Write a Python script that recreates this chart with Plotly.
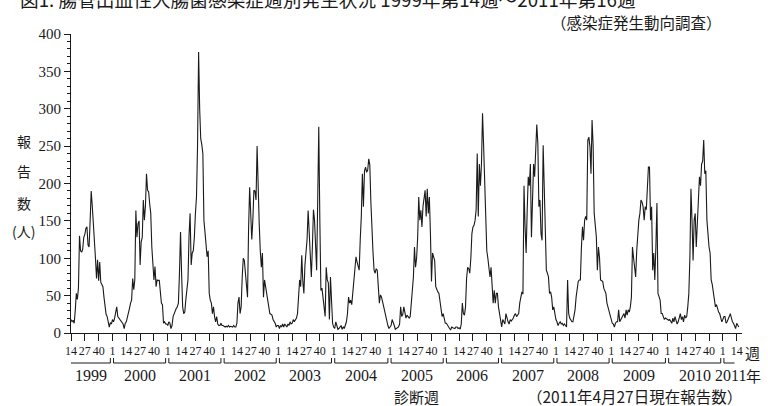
import plotly.graph_objects as go

# Weekly reports of enterocolitis haemorrhagic E. coli infection, 1999 wk14 - 2011 wk16
years = list(range(1999, 2012))
weeks_in_year = [52, 52, 52, 52, 52, 53, 52, 52, 52, 52, 53, 52, 52]
first_week = 14   # series starts at week 14 of 1999
last_week = 16    # and ends at week 16 of 2011
label_weeks = [1, 14, 27, 40]

cases_1999 = [18, 15, 17, 13, 30, 53, 45, 60, 130, 110, 108, 112, 128, 132, 140, 142, 118, 115, 150, 190,
              170, 150, 120, 100, 73, 98, 70, 95, 68, 65, 62, 48, 35, 25, 22, 13, 8, 14, 12]
cases_2000 = [18, 15, 20, 26, 35, 22, 20, 18, 16, 15, 12, 6, 13, 15, 20, 26, 33, 40, 44, 73,
              58, 71, 164, 128, 146, 150, 91, 122, 128, 178, 151, 170, 213, 191, 189, 173, 160, 115, 90, 71,
              89, 62, 71, 70, 71, 55, 40, 38, 13, 15, 12, 12]
cases_2001 = [10, 15, 13, 6, 10, 22, 26, 30, 33, 35, 40, 80, 135, 80, 35, 26, 28, 45, 60, 71,
              130, 160, 91, 107, 110, 128, 160, 182, 250, 376, 300, 260, 252, 240, 151, 133, 115, 102, 110, 53,
              44, 40, 26, 35, 22, 15, 22, 12, 10, 10, 13, 10]
cases_2002 = [10, 9, 8, 9, 8, 10, 8, 9, 8, 8, 10, 8, 8, 13, 40, 48, 26, 35, 75, 100,
              97, 80, 69, 48, 140, 195, 160, 125, 151, 191, 190, 178, 250, 182, 146, 110, 88, 107, 48, 71,
              62, 50, 44, 35, 26, 25, 24, 18, 16, 13, 8, 10]
cases_2003 = [10, 6, 10, 8, 12, 8, 12, 10, 8, 12, 10, 15, 12, 13, 18, 15, 18, 20, 26, 50,
              71, 62, 104, 69, 53, 91, 110, 125, 164, 133, 115, 75, 115, 165, 151, 107, 84, 178, 276, 151,
              57, 60, 48, 40, 22, 88, 71, 67, 18, 75, 31, 13]
cases_2004 = [8, 6, 15, 8, 5, 6, 8, 10, 5, 8, 6, 10, 15, 26, 48, 40, 44, 38, 53, 71,
              88, 102, 95, 88, 84, 125, 156, 213, 169, 217, 222, 215, 218, 233, 225, 175, 130, 108, 84, 80,
              86, 84, 62, 40, 51, 48, 42, 35, 28, 20, 15, 10, 6]
cases_2005 = [8, 10, 18, 12, 10, 5, 6, 6, 8, 12, 35, 22, 25, 35, 28, 20, 24, 22, 20, 22,
              40, 57, 75, 115, 88, 100, 128, 182, 151, 164, 142, 169, 180, 191, 156, 193, 160, 182, 133, 69,
              107, 101, 97, 62, 57, 55, 53, 40, 31, 22, 26, 20]
cases_2006 = [13, 13, 10, 8, 6, 4, 8, 7, 6, 6, 8, 8, 6, 7, 5, 12, 40, 26, 24, 35,
              73, 88, 86, 80, 100, 133, 142, 144, 151, 165, 240, 156, 226, 197, 226, 294, 251, 201, 133, 110,
              100, 88, 75, 88, 62, 40, 57, 40, 53, 53, 35, 26]
cases_2007 = [22, 8, 18, 14, 12, 26, 18, 15, 12, 18, 16, 18, 20, 24, 26, 22, 24, 26, 40, 48,
              55, 52, 197, 142, 107, 164, 209, 197, 226, 128, 182, 226, 209, 240, 279, 254, 169, 178, 133, 124,
              251, 197, 128, 84, 80, 75, 53, 55, 48, 31, 35, 25]
cases_2008 = [18, 15, 10, 13, 15, 12, 13, 10, 12, 10, 8, 71, 26, 20, 18, 15, 15, 22, 31, 48,
              60, 69, 71, 71, 115, 142, 124, 151, 156, 151, 258, 262, 249, 213, 285, 251, 160, 140, 129, 84,
              115, 101, 71, 70, 69, 60, 57, 53, 40, 35, 29, 26]
cases_2009 = [20, 13, 12, 8, 13, 15, 15, 31, 15, 18, 20, 22, 26, 20, 31, 24, 31, 28, 35, 48,
              115, 101, 88, 75, 110, 133, 151, 160, 178, 175, 169, 151, 169, 165, 197, 222, 222, 151, 169, 84,
              107, 71, 115, 174, 53, 48, 44, 26, 26, 22, 18, 20, 19]
cases_2010 = [18, 17, 18, 15, 13, 20, 15, 22, 18, 12, 15, 20, 26, 18, 22, 15, 24, 20, 22, 35,
              53, 101, 193, 151, 97, 151, 160, 115, 151, 191, 209, 197, 226, 230, 258, 213, 217, 151, 129, 115,
              107, 71, 65, 53, 40, 35, 38, 31, 28, 26, 20, 15]
cases_2011 = [18, 22, 22, 13, 15, 20, 22, 26, 18, 15, 13, 8, 6, 13, 10, 8]

cases_by_year = [cases_1999, cases_2000, cases_2001, cases_2002, cases_2003, cases_2004, cases_2005,
                 cases_2006, cases_2007, cases_2008, cases_2009, cases_2010, cases_2011]

SERIF = "Liberation Serif"
CJK = "Noto Sans CJK JP"
INK = "#1a1a1a"

# Lay the weeks out on one continuous axis (one unit per week)
x, y = [], []
week1_pos, year_end = {}, {}
pos = 0
for yr, nweeks, vals in zip(years, weeks_in_year, cases_by_year):
    w0 = first_week if yr == years[0] else 1
    w1 = last_week if yr == years[-1] else nweeks
    assert len(vals) == w1 - w0 + 1, yr
    week1_pos[yr] = pos - (w0 - 1)
    for v in vals:
        x.append(pos)
        y.append(v)
        pos += 1
    year_end[yr] = pos
last_pos = pos - 1

tickvals, ticktext = [], []
for yr, nweeks in zip(years, weeks_in_year):
    w0 = first_week if yr == years[0] else 1
    w1 = last_week if yr == years[-1] else nweeks
    for w in label_weeks:
        if w0 <= w <= w1:
            tickvals.append(week1_pos[yr] + w - 1)
            ticktext.append(str(w))

fig = go.Figure()
fig.add_trace(go.Scatter(x=x, y=y, mode="lines", line=dict(color=INK, width=1.1),
                         hoverinfo="skip", showlegend=False))

# Year brackets under the week labels
shapes = []
for i, yr in enumerate(years):
    start = max(week1_pos[yr], 0)
    left = start + 1 if yr != years[0] else -3
    right = year_end[yr] - 2 if yr != years[-1] else year_end[yr] - 5
    common = dict(xref="x", yref="paper", ysizemode="pixel", yanchor=0,
                  line=dict(color=INK, width=1))
    shapes.append(dict(type="line", x0=left, x1=right, y0=-30, y1=-30, **common))
    if yr != years[0]:
        shapes.append(dict(type="line", x0=left, x1=left, y0=-30, y1=-25, **common))
    if yr != years[-1]:
        shapes.append(dict(type="line", x0=right, x1=right, y0=-30, y1=-25, **common))

annotations = []
for yr in years:
    start = max(week1_pos[yr], 0)
    centre = (start + year_end[yr] - 1) / 2
    annotations.append(dict(x=centre, y=0, xref="x", yref="paper", yshift=-42,
                            text=str(yr), showarrow=False, xanchor="center", yanchor="middle",
                            font=dict(family=SERIF, size=16, color=INK)))

L, R, T, B = 71, 26, 34, 73
PW, PH = 768 - L - R, 406 - T - B


def px_x(p):
    return (p - L) / PW


def px_y(p):
    return (T + PH - p) / PH


def text_at(txt, xp, yp, size, family=CJK, xanchor="center"):
    annotations.append(dict(x=px_x(xp), y=px_y(yp), xref="paper", yref="paper", text=txt,
                            showarrow=False, xanchor=xanchor, yanchor="middle",
                            font=dict(family=family, size=size, color=INK)))


text_at("図1. 腸管出血性大腸菌感染症週別発生状況 1999年第14週～2011年第16週", 18, -2, 18.7, xanchor="left")
text_at("（感染症発生動向調査）", 724, 22, 15.5, xanchor="right")
for ch, yp in [("報", 141), ("告", 171), ("数", 203)]:
    text_at(ch, 24, yp, 14)
text_at("(人)", 23, 231, 14)
annotations.append(dict(x=tickvals[-1], y=0, xref="x", yref="paper", xshift=16, yshift=-19,
                        text="週", showarrow=False, xanchor="center", yanchor="middle",
                        font=dict(family=CJK, size=15, color=INK)))
annotations.append(dict(x=(week1_pos[years[-1]] + last_pos) / 2, y=0, xref="x", yref="paper",
                        xshift=23, yshift=-42, text="年", showarrow=False, xanchor="center",
                        yanchor="middle", font=dict(family=CJK, size=15, color=INK)))
text_at("診断週", 416, 396, 15)
text_at("（2011年4月27日現在報告数）", 634, 396, 15.5)

fig.update_layout(
    width=768, height=406,
    margin=dict(l=L, r=R, t=T, b=B, pad=0),
    paper_bgcolor="white", plot_bgcolor="white",
    shapes=shapes, annotations=annotations,
    xaxis=dict(range=[0, 631], showgrid=False, zeroline=False, showline=True,
               linecolor=INK, linewidth=1, ticks="outside", ticklen=7, tickcolor=INK,
               tickwidth=1, tickvals=tickvals, ticktext=ticktext, tickangle=0,
               tickfont=dict(family=SERIF, size=12, color=INK)),
    yaxis=dict(range=[0, 400], showgrid=False, zeroline=False, showline=True,
               linecolor=INK, linewidth=1, ticks="outside", ticklen=6, tickcolor=INK,
               tickwidth=1, tickvals=list(range(0, 401, 50)),
               tickfont=dict(family=SERIF, size=15, color=INK),
               minor=dict(dtick=10, ticks="outside", ticklen=3, tickcolor=INK, tickwidth=1)),
)

fig.write_html("out.html")
